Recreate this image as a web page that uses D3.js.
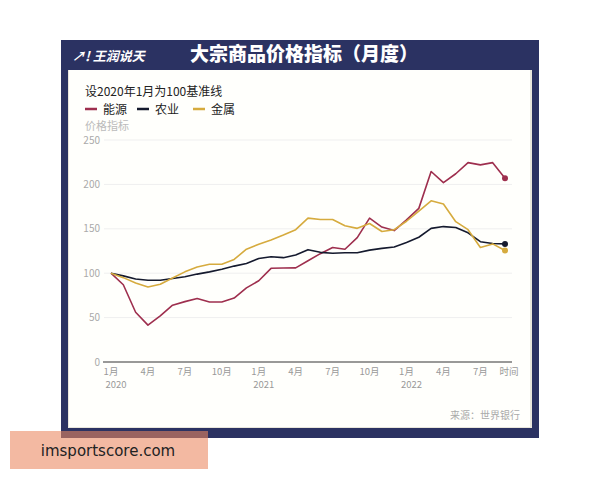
<!DOCTYPE html>
<html><head><meta charset="utf-8">
<script src="https://cdn.jsdelivr.net/npm/d3@7/dist/d3.min.js"></script>
<style>body{margin:0;background:#fff}svg{display:block}</style>
</head><body>
<script>
const months = d3.range(33); // Jan 2020 .. Sep 2022
const energy = [100,87,56,41.5,52,64,68,71.5,67.5,67.5,72,83.5,91.5,105.5,105.8,106,114,122,129,127,140,162,152,148,160,173,214.5,202,212,224.5,222,224.5,207];
const agri   = [100,97,93.5,92,92,94,96,99,101.5,104.5,108,111,116.5,118.5,117.5,120.5,126.5,123.5,122.5,123,123,126,128,129.5,134.5,140.5,150.5,152.5,151.5,145.5,135.5,133.5,133];
const metals = [100,95,89,84.5,87.5,94.5,101.5,107,110,110,115.5,127,132.5,137.5,143,149,162,160.5,160.5,153.5,150.5,156,147,149,158.5,170,181.5,178,158,149,129,133,125.5];
const seriesNames = ["能源","农业","金属"];
const seriesColors = ["#9e2f4e","#151a2e","#d6ab3e"];
const yTicks = [0,50,100,150,200,250];
const xTickMonths = [0,3,6,9,12,15,18,21,24,27,30];
const xTickLabels = ["1月","4月","7月","10月","1月","4月","7月","10月","1月","4月","7月"];
const xTickYears = {0:"2020",12:"2021",24:"2022"};

const W=600,H=480;
const svg=d3.select("body").append("svg").attr("width",W).attr("height",H);
const FONT="'Noto Sans CJK SC','Noto Sans',sans-serif";

// frame
svg.append("rect").attr("x",61).attr("y",40).attr("width",478).attr("height",398).attr("fill","#2b3262");
svg.append("rect").attr("x",68).attr("y",70).attr("width",464).attr("height",358).attr("fill","#e9e6dc");
svg.append("rect").attr("x",69).attr("y",70).attr("width",461).attr("height",357).attr("fill","#fffffc");

// header
svg.append("text").attr("x",72).attr("y",61).attr("fill","#fff").attr("font-family",FONT)
  .attr("font-size",13).attr("font-style","italic").attr("font-weight","bold").text("↗! 王润说天");
svg.append("text").attr("x",304).attr("y",61).attr("text-anchor","middle").attr("fill","#fff")
  .attr("font-family",FONT).attr("font-size",19).attr("font-weight","900").text("大宗商品价格指标（月度）");

// subtitle & legend
svg.append("text").attr("x",85).attr("y",95.5).attr("fill","#222").attr("font-family",FONT)
  .attr("font-size",12).text("设2020年1月为100基准线");
const legX=[85,137,193];
seriesNames.forEach((n,i)=>{
  svg.append("line").attr("x1",legX[i]).attr("x2",legX[i]+12).attr("y1",109).attr("y2",109)
    .attr("stroke",seriesColors[i]).attr("stroke-width",2.5);
  svg.append("text").attr("x",legX[i]+18).attr("y",113.5).attr("fill","#222").attr("font-family",FONT)
    .attr("font-size",12).text(n);
});
svg.append("text").attr("x",85).attr("y",130).attr("fill","#bbb").attr("font-family",FONT)
  .attr("font-size",11).text("价格指标");

// scales
const x=d3.scaleLinear().domain([0,32]).range([111,505]);
const y=d3.scaleLinear().domain([0,250]).range([362,140]);

// grid
svg.append("g").selectAll("line").data(yTicks.filter(d=>d>0)).join("line")
  .attr("x1",104).attr("x2",512).attr("y1",d=>y(d)).attr("y2",d=>y(d))
  .attr("stroke","#efefef").attr("stroke-width",1);
svg.append("g").selectAll("text").data(yTicks).join("text")
  .attr("x",100).attr("y",d=>y(d)+3.5).attr("text-anchor","end").attr("fill","#aaa")
  .attr("font-family",FONT).attr("font-size",10).text(d=>d);

// x axis
svg.append("line").attr("x1",103).attr("x2",512).attr("y1",362).attr("y2",362).attr("stroke","#777").attr("stroke-width",1.3);
const xt=svg.append("g").attr("font-family",FONT).attr("font-size",9.5).attr("fill","#999");
xTickMonths.forEach((m,i)=>{
  xt.append("text").attr("x",x(m)).attr("y",375).attr("text-anchor","middle").text(xTickLabels[i]);
  if(xTickYears[m]) xt.append("text").attr("x",x(m)+5).attr("y",388).attr("text-anchor","middle").text(xTickYears[m]);
});
xt.append("text").attr("x",509).attr("y",375).attr("text-anchor","middle").text("时间");

// lines
const line=d3.line().x((d,i)=>x(months[i])).y(d=>y(d));
[energy,agri,metals].forEach((s,i)=>{
  svg.append("path").attr("d",line(s)).attr("fill","none").attr("stroke",seriesColors[i])
    .attr("stroke-width",1.6).attr("stroke-linejoin","round");
  svg.append("circle").attr("cx",x(32)).attr("cy",y(s[32])).attr("r",3).attr("fill",seriesColors[i]);
});

// source
svg.append("text").attr("x",520).attr("y",419).attr("text-anchor","end").attr("fill","#aaa")
  .attr("font-family",FONT).attr("font-size",10).text("来源：世界银行");

// watermark
svg.append("rect").attr("x",10).attr("y",431).attr("width",198).attr("height",38).attr("fill","rgba(235,135,95,0.58)");
svg.append("text").attr("x",108).attr("y",455.5).attr("text-anchor","middle").attr("fill","#222")
  .attr("font-family","'DejaVu Sans',sans-serif").attr("font-size",15).text("imsportscore.com");
</script>
</body></html>
